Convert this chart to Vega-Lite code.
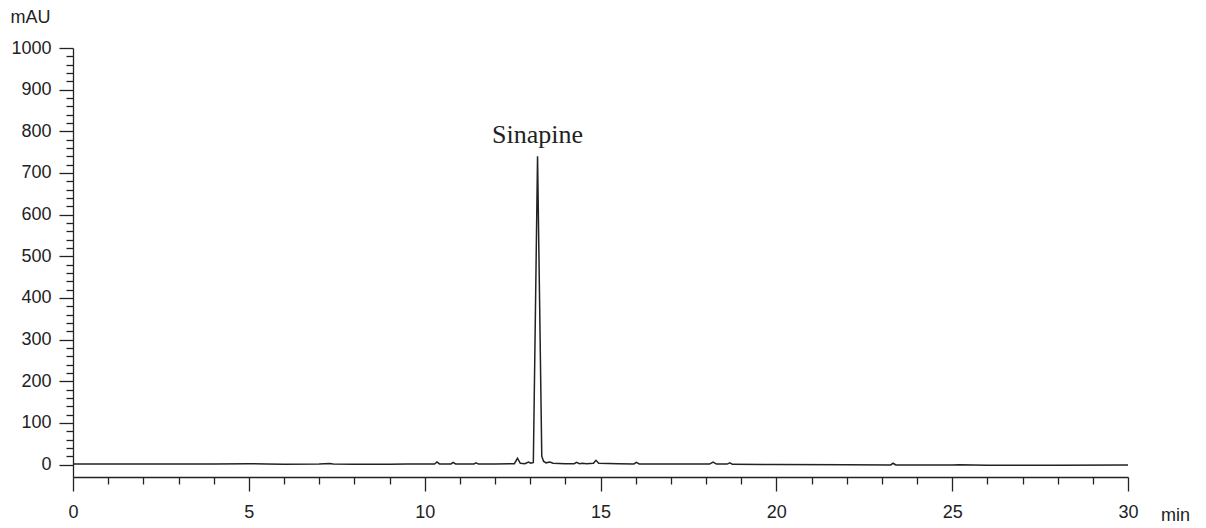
{
  "$schema": "https://vega.github.io/schema/vega-lite/v6.json",
  "width": 1055,
  "height": 429,
  "autosize": "none",
  "padding": {"left": 73, "top": 48, "right": 78, "bottom": 51},
  "background": "white",
  "config": {
    "view": {"stroke": null},
    "axis": {
      "grid": false,
      "domainColor": "#222222",
      "domainWidth": 1.3,
      "tickColor": "#222222",
      "tickWidth": 1.3,
      "labelFont": "Liberation Sans",
      "labelFontSize": 18,
      "labelColor": "#222222",
      "titleFont": "Liberation Sans",
      "titleFontSize": 18,
      "titleFontWeight": "normal",
      "titleColor": "#222222"
    }
  },
  "datasets": {
    "trace": [
      {"t": 0, "v": 1}, {"t": 1, "v": 1}, {"t": 2, "v": 1}, {"t": 3, "v": 1}, {"t": 4, "v": 1.5},
      {"t": 5, "v": 2}, {"t": 5.5, "v": 1}, {"t": 6, "v": 0.5}, {"t": 7, "v": 1}, {"t": 7.3, "v": 2.5},
      {"t": 7.4, "v": 1}, {"t": 8, "v": 0.5}, {"t": 9, "v": 0.5}, {"t": 9.5, "v": 1}, {"t": 10, "v": 1},
      {"t": 10.28, "v": 1}, {"t": 10.35, "v": 6}, {"t": 10.42, "v": 1.5}, {"t": 10.75, "v": 1.5},
      {"t": 10.81, "v": 5}, {"t": 10.88, "v": 1.5}, {"t": 11.4, "v": 1}, {"t": 11.46, "v": 4},
      {"t": 11.53, "v": 1}, {"t": 12, "v": 1.5}, {"t": 12.55, "v": 2}, {"t": 12.64, "v": 15},
      {"t": 12.72, "v": 3}, {"t": 12.85, "v": 2}, {"t": 12.95, "v": 6}, {"t": 13.02, "v": 3},
      {"t": 13.09, "v": 5}, {"t": 13.15, "v": 370}, {"t": 13.21, "v": 740}, {"t": 13.27, "v": 380},
      {"t": 13.33, "v": 20}, {"t": 13.38, "v": 8}, {"t": 13.45, "v": 4}, {"t": 13.56, "v": 6},
      {"t": 13.65, "v": 3}, {"t": 14, "v": 2}, {"t": 14.25, "v": 2}, {"t": 14.32, "v": 5},
      {"t": 14.4, "v": 2}, {"t": 14.49, "v": 3}, {"t": 14.6, "v": 2}, {"t": 14.8, "v": 3},
      {"t": 14.87, "v": 10}, {"t": 14.95, "v": 3}, {"t": 15.5, "v": 2}, {"t": 15.95, "v": 1.5},
      {"t": 16.02, "v": 5}, {"t": 16.1, "v": 1.5}, {"t": 17, "v": 1}, {"t": 18.1, "v": 1},
      {"t": 18.2, "v": 6}, {"t": 18.3, "v": 1}, {"t": 18.6, "v": 1}, {"t": 18.68, "v": 4},
      {"t": 18.75, "v": 0.5}, {"t": 20, "v": 0}, {"t": 22, "v": -0.5}, {"t": 23.25, "v": -1},
      {"t": 23.32, "v": 3}, {"t": 23.4, "v": -1}, {"t": 25, "v": -1}, {"t": 25.2, "v": -0.5},
      {"t": 26, "v": -2}, {"t": 28, "v": -2}, {"t": 30, "v": -1}
    ],
    "labels": [{"t": 13.21, "v": 740, "label": "Sinapine"}]
  },
  "encoding": {
    "x": {
      "field": "t", "type": "quantitative",
      "scale": {"domain": [0, 30], "nice": false, "zero": false},
      "axis": {
        "title": "min",
        "titleAngle": 0,
        "titleX": 1102,
        "titleY": 38,
        "titleAlign": "center",
        "titleBaseline": "middle",
        "values": [0,1,2,3,4,5,6,7,8,9,10,11,12,13,14,15,16,17,18,19,20,21,22,23,24,25,26,27,28,29,30],
        "format": "d",
        "labelExpr": "datum.value % 5 === 0 ? datum.label : ''",
        "tickSize": {"condition": {"test": "datum.value % 5 === 0", "value": 14}, "value": 7},
        "labelPadding": 12,
        "labelFlush": false,
        "labelOverlap": false
      }
    },
    "y": {
      "field": "v", "type": "quantitative",
      "scale": {"domain": [-30, 1000], "nice": false, "zero": false},
      "axis": {
        "title": "mAU",
        "titleAngle": 0,
        "titleX": -43,
        "titleY": -31,
        "titleAlign": "center",
        "titleBaseline": "middle",
        "values": [0,20,40,60,80,100,120,140,160,180,200,220,240,260,280,300,320,340,360,380,400,420,440,460,480,500,520,540,560,580,600,620,640,660,680,700,720,740,760,780,800,820,840,860,880,900,920,940,960,980,1000],
        "format": "d",
        "labelExpr": "datum.value % 100 === 0 ? datum.label : ''",
        "tickSize": {"condition": {"test": "datum.value % 100 === 0", "value": 14}, "value": 7},
        "labelPadding": 8,
        "labelFlush": false,
        "labelOverlap": false
      }
    }
  },
  "layer": [
    {
      "data": {"name": "trace"},
      "mark": {"type": "line", "color": "#222222", "strokeWidth": 1.5, "clip": true}
    },
    {
      "data": {"name": "labels"},
      "mark": {"type": "text", "font": "Liberation Serif", "fontSize": 26, "color": "#222222", "baseline": "alphabetic", "align": "center", "dy": -13},
      "encoding": {
        "text": {"field": "label"}
      }
    }
  ]
}
